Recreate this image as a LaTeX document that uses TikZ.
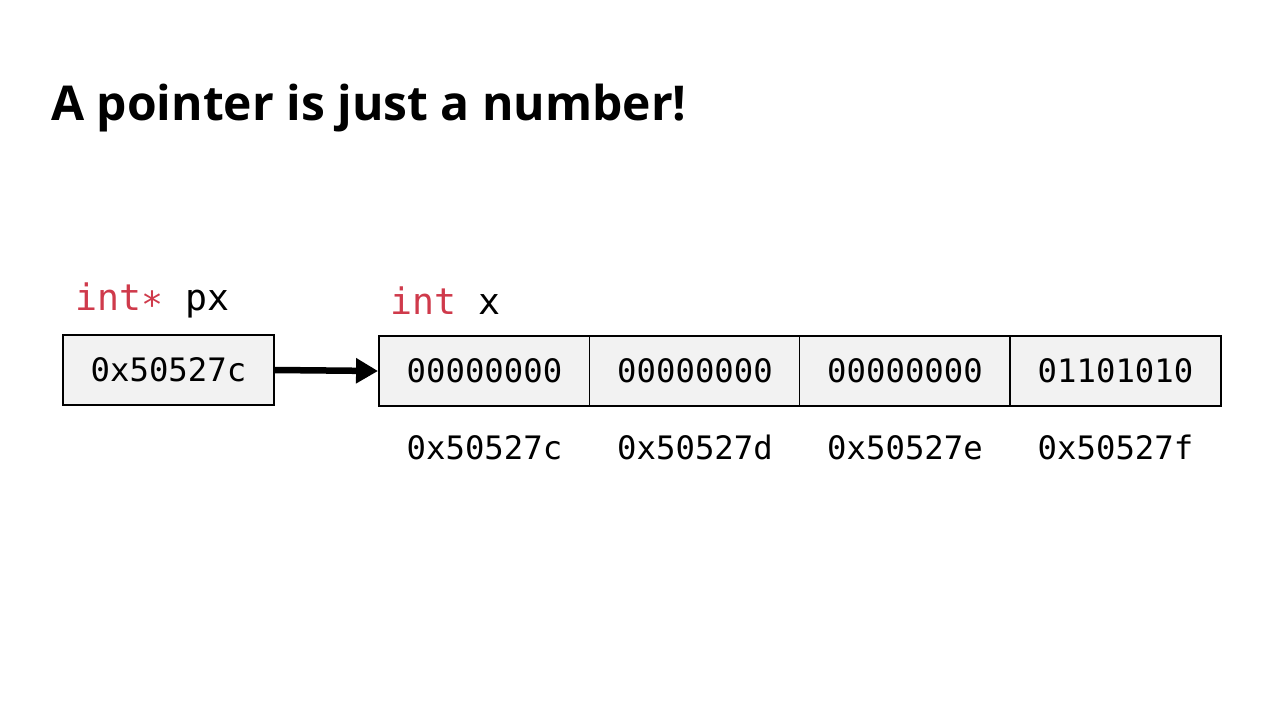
\documentclass[tikz,border=0pt]{standalone}
\usepackage{fontspec}
\setmainfont{Open Sans}
\setmonofont{DejaVu Sans Mono}
\usetikzlibrary{arrows.meta}
\definecolor{kwred}{HTML}{CF3A4B}
\definecolor{cellfill}{HTML}{F2F2F2}
\begin{document}
\begin{tikzpicture}[x=1pt,y=-1pt,
  cell/.style={draw=black,line width=1.9pt,fill=cellfill,minimum width=211pt,minimum height=70pt,inner sep=0pt,font=\fontsize{32.3}{32.3}\selectfont\ttfamily},
  addr/.style={inner sep=0pt,font=\fontsize{32.3}{32.3}\selectfont\ttfamily},
  lbl/.style={inner sep=0pt,anchor=base west,font=\fontsize{36.5}{36.5}\selectfont\ttfamily},
  ptr/.style={line width=6.5pt,-{Triangle[length=22pt,width=24pt]}}]
\useasboundingbox (0,0) rectangle (1280,720);
\node[anchor=base west,inner sep=0pt,font=\fontsize{48}{48}\selectfont\bfseries] (title) at (51,120) {A pointer is just a number!};
\node[lbl] (pxlbl) at (75,310) {\textcolor{kwred}{int∗} px};
\node[lbl] (xlbl) at (390,314) {\textcolor{kwred}{int} x};
\node[cell] (px) at (168.5,370) {0x50527c};
\node[cell] (c0) at (484.5,371) {00000000};
\node[cell] (c1) at (695,371) {00000000};
\node[cell] (c2) at (905,371) {00000000};
\node[cell] (c3) at (1115.5,371) {01101010};
\node[addr,anchor=base] (a0) at (484.5,459) {0x50527c};
\node[addr,anchor=base] (a1) at (695,459) {0x50527d};
\node[addr,anchor=base] (a2) at (905,459) {0x50527e};
\node[addr,anchor=base] (a3) at (1115.5,459) {0x50527f};
\draw[ptr] (px.east) -- (c0.west);
\end{tikzpicture}
\end{document}
